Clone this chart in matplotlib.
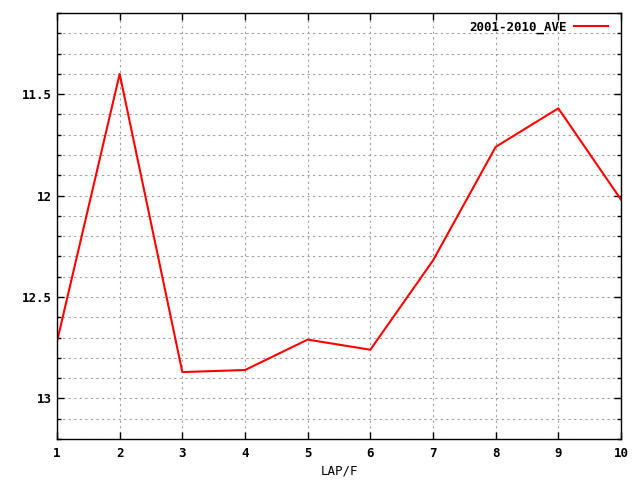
import matplotlib
matplotlib.use("Agg")
import matplotlib.pyplot as plt
from matplotlib.ticker import MultipleLocator

laps = [1, 2, 3, 4, 5, 6, 7, 8, 9, 10]
ave = [12.72, 11.40, 12.87, 12.86, 12.71, 12.76, 12.32, 11.76, 11.57, 12.02]

plt.rcParams["font.family"] = "DejaVu Sans Mono"
plt.rcParams["font.weight"] = "bold"
plt.rcParams["font.size"] = 9

fig = plt.figure(figsize=(6.4, 4.8), dpi=100)
ax = fig.add_axes([57 / 640, 1 - 439 / 480, 564 / 640, 426 / 480])

ax.plot(laps, ave, color="#ff0000", lw=1.5, label="2001-2010_AVE")

ax.set_xlim(1, 10)
ax.set_ylim(13.2, 11.1)
ax.xaxis.set_major_locator(MultipleLocator(1))
ax.yaxis.set_minor_locator(MultipleLocator(0.1))
ax.set_yticks([11.5, 12, 12.5, 13])
ax.set_yticklabels(["11.5", "12", "12.5", "13"])

ax.grid(True, which="both", axis="y", color="#a0a0a0", ls=(0, (2, 3)), lw=0.8)
ax.grid(True, which="major", axis="x", color="#a0a0a0", ls=(0, (2, 3)), lw=0.8)
ax.tick_params(which="both", direction="in", top=True, right=True, length=5, width=1)
ax.tick_params(which="minor", length=3)
ax.tick_params(axis="x", pad=6)
for s in ax.spines.values():
    s.set_linewidth(1)

ax.set_xlabel("LAP/F", labelpad=3)
ax.legend(loc="upper right", frameon=False, markerfirst=False, handlelength=2.7,
          handletextpad=0.6, borderaxespad=0.2, bbox_to_anchor=(0.99, 1.0))

fig.savefig("out.png", dpi=100)
